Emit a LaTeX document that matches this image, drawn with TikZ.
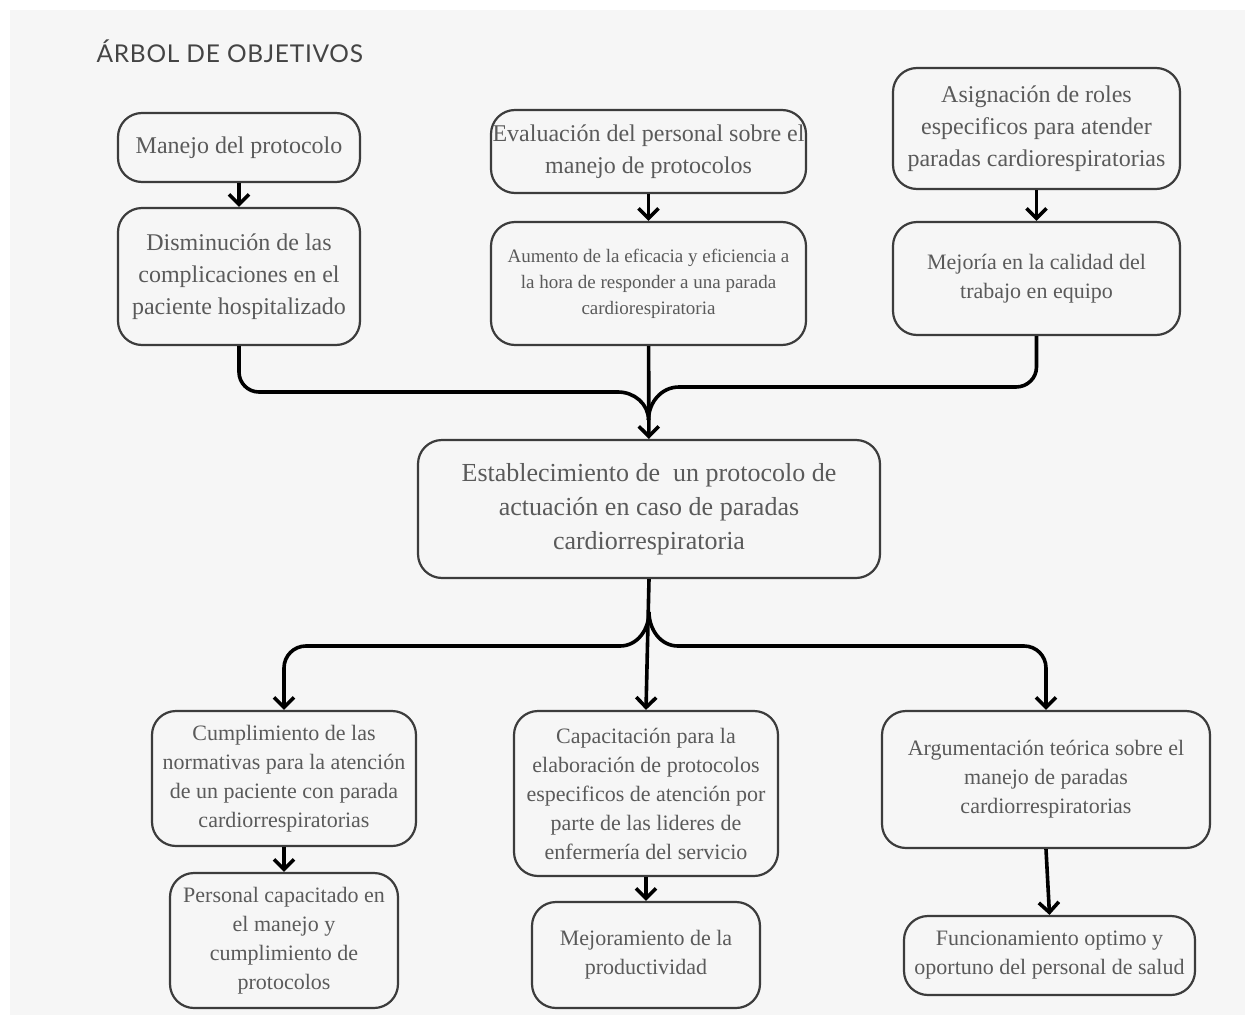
\documentclass[tikz,border=0pt]{standalone}
\usepackage{fontspec}
\setmainfont{Liberation Serif}
\newfontfamily\titlefont[LetterSpace=3]{Lato}
\usetikzlibrary{arrows.meta}
\definecolor{bgc}{HTML}{F6F6F6}
\definecolor{boxc}{HTML}{3C3C3C}
\definecolor{txtc}{HTML}{5A5A5A}
\definecolor{titc}{HTML}{444444}
\begin{document}
\begin{tikzpicture}[x=1pt,y=-1pt,
  box/.style={draw=boxc, line width=2.2pt, rounded corners=24pt, align=center, text=txtc, inner sep=0pt},
  fa/.style={font=\fontsize{24}{32}\selectfont},
  fb/.style={font=\fontsize{22}{29}\selectfont},
  fc/.style={font=\fontsize{19}{26}\selectfont},
  fd/.style={font=\fontsize{26}{34}\selectfont},
  conn/.style={line width=3.6pt, black, line join=round},
  tip/.style={-{Straight Barb[length=10pt,width=20pt]}}
  ]
\fill[white] (0,0) rectangle (1254,1020);
\fill[bgc] (10,10) rectangle (1245,1015);
\useasboundingbox (0,0) rectangle (1254,1020);

\node[anchor=base west, font=\titlefont\fontsize{24.5}{30}\selectfont, text=titc] (title) at (93,62) {ÁRBOL DE OBJETIVOS};

% top row
\node[box, fa, minimum width=242pt, minimum height=69pt] (n1) at (239,147.5) {Manejo del protocolo};
\node[box, fa, minimum width=242pt, minimum height=137pt] (n2) at (239,276.5) {Disminución de las\\complicaciones en el\\paciente hospitalizado};
\node[box, fa, minimum width=315pt, minimum height=83pt] (n3) at (648.5,151.5) {Evaluación del personal sobre el\\manejo de protocolos};
\node[box, fc, minimum width=315pt, minimum height=123pt] (n4) at (648.5,283.5) {Aumento de la eficacia y eficiencia a\\la hora de responder a una parada\\cardiorespiratoria};
\node[box, fa, minimum width=287pt, minimum height=121pt] (n5) at (1036.5,128.5) {Asignación de roles\\especificos para atender\\paradas cardiorespiratorias};
\node[box, fb, minimum width=287pt, minimum height=113pt] (n6) at (1036.5,278.5) {Mejoría en la calidad del\\trabajo en equipo};

% center
\node[box, fd, minimum width=462pt, minimum height=138pt] (n7) at (649,509) {Establecimiento de \ un protocolo de\\actuación en caso de paradas\\cardiorrespiratoria};

% bottom row
\node[box, fb, minimum width=264pt, minimum height=135pt] (n8) at (284,778.5) {Cumplimiento de las\\normativas para la atención\\de un paciente con parada\\cardiorrespiratorias};
\node[box, fb, minimum width=228pt, minimum height=135pt] (n9) at (284,940.5) {Personal capacitado en\\el manejo y\\cumplimiento de\\protocolos};
\node[box, fb, minimum width=264pt, minimum height=165pt] (n10) at (646,793.5) {Capacitación para la\\elaboración de protocolos\\especificos de atención por\\parte de las lideres de\\enfermería del servicio};
\node[box, fb, minimum width=228pt, minimum height=106pt] (n11) at (646,955) {Mejoramiento de la\\productividad};
\node[box, fb, minimum width=328pt, minimum height=137pt] (n12) at (1046,779.5) {Argumentación teórica sobre el\\manejo de paradas\\cardiorrespiratorias};
\node[box, fb, minimum width=291pt, minimum height=79pt] (n13) at (1049.5,955.5) {Funcionamiento optimo y\\oportuno del personal de salud};

% connectors top
\draw[conn,tip] (n1) -- (n2);
\draw[conn,tip] (n3) -- (n4);
\draw[conn,tip] (n5) -- (n6);
\coordinate (jl) at (648.5,420);
\draw[conn] (n2.south) -- (239,372) to[out=-90,in=180] (259,392) -- (618,392) to[out=0,in=90] (jl);
\draw[conn] (n6.south) -- (1036.5,367) to[out=-90,in=0] (1016,387) -- (679,387) to[out=180,in=90] (jl);
\draw[conn,tip] (n4) -- (n7);

% connectors bottom
\coordinate (js) at (649,612);
\draw[conn,tip] (n7.south) -- (n10.north);
\draw[conn,tip] (js) to[out=-90,in=0] (620,646) -- (306,646) to[out=180,in=90] (284,668) -- (n8.north);
\draw[conn,tip] (js) to[out=-90,in=180] (678,646) -- (1024,646) to[out=0,in=90] (1046,668) -- (n12.north);
\draw[conn,tip] (n8) -- (n9);
\draw[conn,tip] (n10) -- (n11);
\draw[conn,tip] (n12.south) -- (n13.north);
\end{tikzpicture}
\end{document}
